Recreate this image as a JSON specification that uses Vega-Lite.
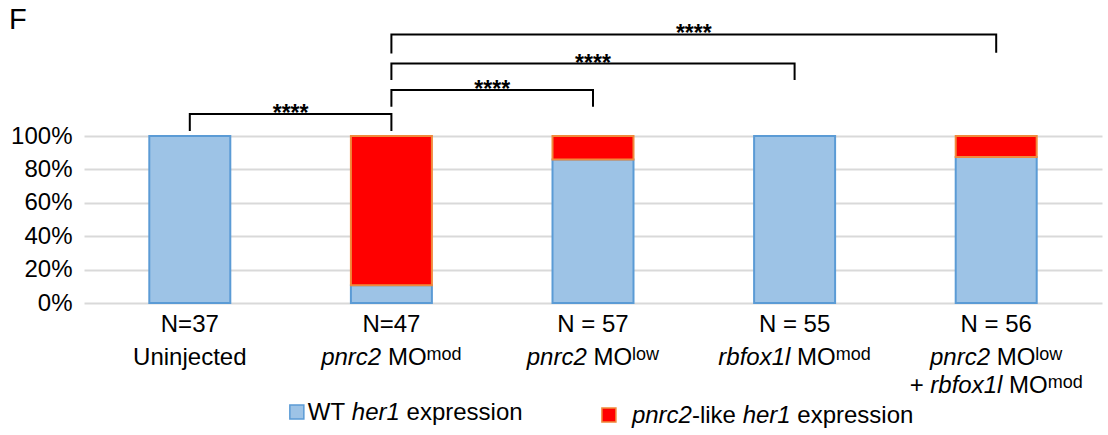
{
"$schema": "https://vega.github.io/schema/vega-lite/v6.json",
"width": 1018, "height": 167,
"autosize": {"type": "none"},
"padding": {"left": 84, "top": 136, "right": 6, "bottom": 132},
"background": "white",
"title": {"text": "F", "anchor": "start", "frame": "group", "fontSize": 29, "fontWeight": "normal", "font": "Liberation Sans", "color": "black", "dx": -75, "dy": 16},
"resolve": {"axis": {"y": "independent", "x": "independent"}},
"config": {
  "font": "Liberation Sans",
  "view": {"stroke": null},
  "axisY": {"labelOverlap": false, "labelBound": false, "labelFlush": false, "labelFontSize": 24, "labelColor": "black", "labelPadding": 12, "labelFont": "Liberation Sans", "gridColor": "#d9d9d9", "gridWidth": 2, "domain": false, "ticks": false, "tickSize": 0},
  "text": {"font": "Liberation Sans", "fontSize": 24, "color": "black", "baseline": "alphabetic"}
},
"layer": [
{
  "data": {"values": [
    {"i": 0, "group": "Uninjected", "type": "WT", "n": 37},
    {"i": 1, "group": "pnrc2 MOmod", "type": "WT", "n": 5},
    {"i": 1, "group": "pnrc2 MOmod", "type": "like", "n": 42},
    {"i": 2, "group": "pnrc2 MOlow", "type": "WT", "n": 49},
    {"i": 2, "group": "pnrc2 MOlow", "type": "like", "n": 8},
    {"i": 3, "group": "rbfox1l MOmod", "type": "WT", "n": 55},
    {"i": 4, "group": "pnrc2 MOlow + rbfox1l MOmod", "type": "WT", "n": 49},
    {"i": 4, "group": "pnrc2 MOlow + rbfox1l MOmod", "type": "like", "n": 7}
  ]},
  "mark": {"type": "bar", "size": 81, "strokeWidth": 2},
  "encoding": {
    "x": {"field": "i", "type": "quantitative", "title": null, "axis": null, "scale": {"domain": [-0.5, 4.5], "nice": false, "zero": false}},
    "y": {"field": "n", "type": "quantitative", "stack": "normalize", "title": null,
          "scale": {"domain": [0, 1], "nice": false},
          "axis": {"values": [0, 0.2, 0.4, 0.6, 0.8, 1], "format": ".0%", "title": null}},
    "color": {"field": "type", "type": "nominal", "scale": {"domain": ["WT", "like"], "range": ["#9dc3e6", "#ff0000"]}, "legend": null},
    "stroke": {"field": "type", "type": "nominal", "scale": {"domain": ["WT", "like"], "range": ["#5b9bd5", "#f08a3c"]}, "legend": null},
    "order": {"field": "type", "type": "nominal", "sort": "ascending"}
  }
},
{
  "data": {"values": [
    {"b": 1, "k": 0, "i": 0, "v": 1.03}, {"b": 1, "k": 1, "i": 0, "v": 1.131}, {"b": 1, "k": 2, "i": 1, "v": 1.131}, {"b": 1, "k": 3, "i": 1, "v": 1.03},
    {"b": 2, "k": 0, "i": 1, "v": 1.175}, {"b": 2, "k": 1, "i": 1, "v": 1.275}, {"b": 2, "k": 2, "i": 2, "v": 1.275}, {"b": 2, "k": 3, "i": 2, "v": 1.175},
    {"b": 3, "k": 0, "i": 1, "v": 1.335}, {"b": 3, "k": 1, "i": 1, "v": 1.434}, {"b": 3, "k": 2, "i": 3, "v": 1.434}, {"b": 3, "k": 3, "i": 3, "v": 1.335},
    {"b": 4, "k": 0, "i": 1, "v": 1.494}, {"b": 4, "k": 1, "i": 1, "v": 1.608}, {"b": 4, "k": 2, "i": 4, "v": 1.608}, {"b": 4, "k": 3, "i": 4, "v": 1.498}
  ]},
  "mark": {"type": "line", "color": "black", "strokeWidth": 2, "strokeJoin": "miter", "strokeCap": "butt"},
  "encoding": {
    "x": {"field": "i", "type": "quantitative", "axis": null},
    "y": {"field": "v", "type": "quantitative", "axis": null},
    "detail": {"field": "b", "type": "nominal"},
    "order": {"field": "k", "type": "quantitative"}
  }
},
{
  "data": {"values": [{"i": 0.5, "v": 1.131}, {"i": 1.5, "v": 1.275}, {"i": 2, "v": 1.434}, {"i": 2.5, "v": 1.608}]},
  "mark": {"type": "text", "fontSize": 23, "fontWeight": "bold", "align": "center", "dy": 7},
  "encoding": {
    "x": {"field": "i", "type": "quantitative", "axis": null},
    "y": {"field": "v", "type": "quantitative", "axis": null},
    "text": {"value": "****"}
  }
},
{
  "data": {"values": [{"i": 0, "t": "N=37"}, {"i": 1, "t": "N=47"}, {"i": 2, "t": "N = 57"}, {"i": 3, "t": "N = 55"}, {"i": 4, "t": "N = 56"}]},
  "mark": {"type": "text", "align": "center"},
  "encoding": {"x": {"field": "i", "type": "quantitative", "axis": null}, "y": {"datum": -0.172, "axis": null}, "text": {"field": "t"}}
},
{
  "data": {"values": [{"i": 0, "t": "Uninjected"}]},
  "mark": {"type": "text", "align": "center"},
  "encoding": {"x": {"field": "i", "type": "quantitative", "axis": null}, "y": {"datum": -0.369, "axis": null}, "text": {"field": "t"}}
},
{
  "data": {"values": [{"i": 1, "t": "pnrc2"}]},
  "mark": {"type": "text", "align": "right", "fontStyle": "italic", "dx": -10.2},
  "encoding": {"x": {"field": "i", "type": "quantitative", "axis": null}, "y": {"datum": -0.369, "axis": null}, "text": {"field": "t"}}
},
{
  "data": {"values": [{"i": 2, "t": "pnrc2"}, {"i": 4, "t": "pnrc2"}]},
  "mark": {"type": "text", "align": "right", "fontStyle": "italic", "dx": -6.2},
  "encoding": {"x": {"field": "i", "type": "quantitative", "axis": null}, "y": {"datum": -0.369, "axis": null}, "text": {"field": "t"}}
},
{
  "data": {"values": [{"i": 3, "t": "rbfox1l"}]},
  "mark": {"type": "text", "align": "right", "fontStyle": "italic", "dx": -4.2},
  "encoding": {"x": {"field": "i", "type": "quantitative", "axis": null}, "y": {"datum": -0.369, "axis": null}, "text": {"field": "t"}}
},
{
  "data": {"values": [{"i": 1, "t": "MO"}]},
  "mark": {"type": "text", "align": "left", "dx": -3.5},
  "encoding": {"x": {"field": "i", "type": "quantitative", "axis": null}, "y": {"datum": -0.369, "axis": null}, "text": {"field": "t"}}
},
{
  "data": {"values": [{"i": 2, "t": "MO"}, {"i": 4, "t": "MO"}]},
  "mark": {"type": "text", "align": "left", "dx": 0.5},
  "encoding": {"x": {"field": "i", "type": "quantitative", "axis": null}, "y": {"datum": -0.369, "axis": null}, "text": {"field": "t"}}
},
{
  "data": {"values": [{"i": 3, "t": "MO"}]},
  "mark": {"type": "text", "align": "left", "dx": 2.5},
  "encoding": {"x": {"field": "i", "type": "quantitative", "axis": null}, "y": {"datum": -0.369, "axis": null}, "text": {"field": "t"}}
},
{
  "data": {"values": [{"i": 1, "t": "mod"}]},
  "mark": {"type": "text", "align": "left", "fontSize": 18, "dx": 35.1, "dy": -5},
  "encoding": {"x": {"field": "i", "type": "quantitative", "axis": null}, "y": {"datum": -0.369, "axis": null}, "text": {"field": "t"}}
},
{
  "data": {"values": [{"i": 2, "t": "low"}, {"i": 4, "t": "low"}]},
  "mark": {"type": "text", "align": "left", "fontSize": 18, "dx": 39.1, "dy": -5},
  "encoding": {"x": {"field": "i", "type": "quantitative", "axis": null}, "y": {"datum": -0.369, "axis": null}, "text": {"field": "t"}}
},
{
  "data": {"values": [{"i": 3, "t": "mod"}]},
  "mark": {"type": "text", "align": "left", "fontSize": 18, "dx": 41.1, "dy": -5},
  "encoding": {"x": {"field": "i", "type": "quantitative", "axis": null}, "y": {"datum": -0.369, "axis": null}, "text": {"field": "t"}}
},
{
  "data": {"values": [{"i": 4, "t": "+"}]},
  "mark": {"type": "text", "align": "left", "dx": -86.5},
  "encoding": {"x": {"field": "i", "type": "quantitative", "axis": null}, "y": {"datum": -0.536, "axis": null}, "text": {"field": "t"}}
},
{
  "data": {"values": [{"i": 4, "t": "rbfox1l"}]},
  "mark": {"type": "text", "align": "right", "fontStyle": "italic", "dx": 6.2},
  "encoding": {"x": {"field": "i", "type": "quantitative", "axis": null}, "y": {"datum": -0.536, "axis": null}, "text": {"field": "t"}}
},
{
  "data": {"values": [{"i": 4, "t": "MO"}]},
  "mark": {"type": "text", "align": "left", "dx": 12.9},
  "encoding": {"x": {"field": "i", "type": "quantitative", "axis": null}, "y": {"datum": -0.536, "axis": null}, "text": {"field": "t"}}
},
{
  "data": {"values": [{"i": 4, "t": "mod"}]},
  "mark": {"type": "text", "align": "left", "fontSize": 18, "dx": 51.5, "dy": -5},
  "encoding": {"x": {"field": "i", "type": "quantitative", "axis": null}, "y": {"datum": -0.536, "axis": null}, "text": {"field": "t"}}
},
{
  "data": {"values": [{"i": 0.531, "type": "WT", "v": -0.653}, {"i": 2.079, "type": "like", "v": -0.671}]},
  "mark": {"type": "point", "shape": "square", "filled": true, "size": 196, "strokeWidth": 1.5, "opacity": 1},
  "encoding": {
    "x": {"field": "i", "type": "quantitative", "axis": null},
    "y": {"field": "v", "type": "quantitative", "axis": null},
    "color": {"field": "type", "type": "nominal", "legend": null},
    "stroke": {"field": "type", "type": "nominal", "legend": null}
  }
},
{
  "data": {"values": [{"i": 0.531, "t": "WT"}]},
  "mark": {"type": "text", "align": "left", "dx": 11},
  "encoding": {"x": {"field": "i", "type": "quantitative", "axis": null}, "y": {"datum": -0.698, "axis": null}, "text": {"field": "t"}}
},
{
  "data": {"values": [{"i": 0.531, "t": "her1"}]},
  "mark": {"type": "text", "align": "left", "fontStyle": "italic", "dx": 55},
  "encoding": {"x": {"field": "i", "type": "quantitative", "axis": null}, "y": {"datum": -0.698, "axis": null}, "text": {"field": "t"}}
},
{
  "data": {"values": [{"i": 0.531, "t": "expression"}]},
  "mark": {"type": "text", "align": "left", "dx": 109.7},
  "encoding": {"x": {"field": "i", "type": "quantitative", "axis": null}, "y": {"datum": -0.698, "axis": null}, "text": {"field": "t"}}
},
{
  "data": {"values": [{"i": 2.079, "t": "pnrc2"}]},
  "mark": {"type": "text", "align": "left", "fontStyle": "italic", "dx": 23},
  "encoding": {"x": {"field": "i", "type": "quantitative", "axis": null}, "y": {"datum": -0.721, "axis": null}, "text": {"field": "t"}}
},
{
  "data": {"values": [{"i": 2.079, "t": "-like"}]},
  "mark": {"type": "text", "align": "left", "dx": 83},
  "encoding": {"x": {"field": "i", "type": "quantitative", "axis": null}, "y": {"datum": -0.721, "axis": null}, "text": {"field": "t"}}
},
{
  "data": {"values": [{"i": 2.079, "t": "her1"}]},
  "mark": {"type": "text", "align": "left", "fontStyle": "italic", "dx": 133.7},
  "encoding": {"x": {"field": "i", "type": "quantitative", "axis": null}, "y": {"datum": -0.721, "axis": null}, "text": {"field": "t"}}
},
{
  "data": {"values": [{"i": 2.079, "t": "expression"}]},
  "mark": {"type": "text", "align": "left", "dx": 188.4},
  "encoding": {"x": {"field": "i", "type": "quantitative", "axis": null}, "y": {"datum": -0.721, "axis": null}, "text": {"field": "t"}}
}
]
}
